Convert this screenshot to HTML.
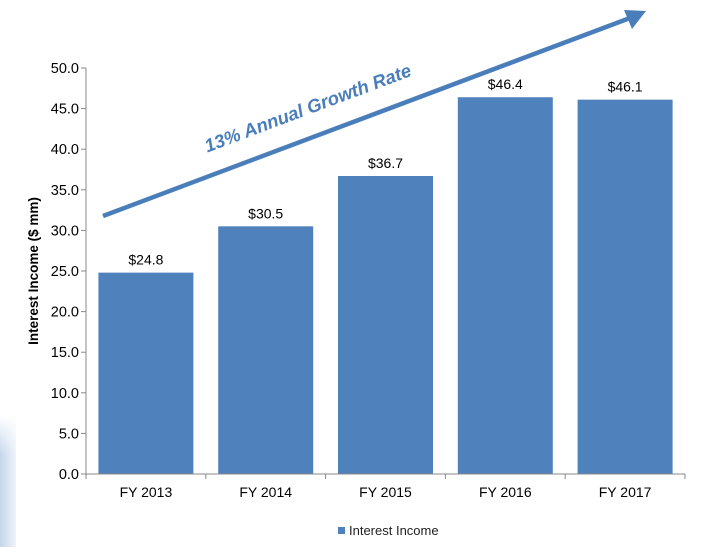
<!DOCTYPE html>
<html><head><meta charset="utf-8"><style>
html,body{margin:0;padding:0;background:#fff;}
body{width:710px;height:547px;overflow:hidden;font-family:"Liberation Sans",Arial,sans-serif;}
</style></head><body>
<svg width="710" height="547" viewBox="0 0 710 547" xmlns="http://www.w3.org/2000/svg">
<defs>
<linearGradient id="lg" x1="0" y1="0" x2="1" y2="0"><stop offset="0" stop-color="#c5d6ec"/><stop offset="1" stop-color="#eef3fa"/></linearGradient>
<linearGradient id="lg2" x1="0" y1="0" x2="0" y2="1"><stop offset="0" stop-color="#fff" stop-opacity="1"/><stop offset="0.3" stop-color="#fff" stop-opacity="0"/></linearGradient>
</defs>
<rect x="0" y="415" width="16" height="132" fill="url(#lg)"/>
<rect x="0" y="415" width="16" height="132" fill="url(#lg2)"/>
<g id="plot"></g>
<g>
<line x1="103" y1="216" x2="630" y2="18" stroke="#4a7ebb" stroke-width="4.5"/>
<polygon points="646,11 624,10 632,29" fill="#4a7ebb"/>
</g>
<text x="310" y="114" transform="rotate(-20.6 310 114)" text-anchor="middle" font-size="18.5" font-weight="bold" font-style="italic" fill="#4a7ebb">13% Annual Growth Rate</text>
<text transform="translate(38 271) rotate(-90)" text-anchor="middle" font-size="13.5" font-weight="bold" fill="#000">Interest Income ($ mm)</text>
<g>
<rect x="338" y="527" width="7" height="7" fill="#4f81bd"/>
<text x="349" y="535" font-size="13" fill="#222">Interest Income</text>
</g>
</svg>
<script>
const categories=["FY 2013","FY 2014","FY 2015","FY 2016","FY 2017"];
const values=[24.8,30.5,36.7,46.4,46.1];
const valueLabels=["$24.8","$30.5","$36.7","$46.4","$46.1"];
const yTicks=[0,5,10,15,20,25,30,35,40,45,50];
const NS="http://www.w3.org/2000/svg";
const g=document.getElementById('plot');
const X0=86,X1=685,Y0=474,Y1=68,YMAX=50;
const band=(X1-X0)/categories.length;
function y(v){return Y0-(v/YMAX)*(Y0-Y1);}
function xc(i){return X0+band*(i+0.5);}
function el(t,a){const e=document.createElementNS(NS,t);for(const k in a)e.setAttribute(k,a[k]);g.appendChild(e);return e;}
yTicks.forEach(t=>{
  const l=el('line',{x1:X0-5,x2:X0,y1:y(t),y2:y(t),stroke:'#888'});
  
  
  const tx=el('text',{x:X0-7,y:y(t)+5,'text-anchor':'end','font-size':14.5,fill:'#000'});
  tx.textContent=t.toFixed(1);
  
  
});
values.forEach((v,i)=>{
  const w=95;
  const r=el('rect',{x:xc(i)-w/2,y:y(v),width:w,height:Y0-y(v),fill:'#4f81bd'});
  
  
  const t=el('text',{x:xc(i),y:y(v)-8,'text-anchor':'middle','font-size':14,fill:'#000'});
  t.textContent=valueLabels[i];
  
  
  const c=el('text',{x:xc(i),y:Y0+23,'text-anchor':'middle','font-size':14,fill:'#000'});
  c.textContent=categories[i];
  
  
});
for(let i=0;i<=categories.length;i++){
  const tk=el('line',{x1:X0+band*i,x2:X0+band*i,y1:Y0,y2:Y0+5,stroke:'#888'});
  
  
}
const ya=el('line',{x1:X0,x2:X0,y1:Y1,y2:Y0,stroke:'#888'});


const xa=el('line',{x1:X0,x2:X1,y1:Y0,y2:Y0,stroke:'#888'});


</script>
</body></html>
